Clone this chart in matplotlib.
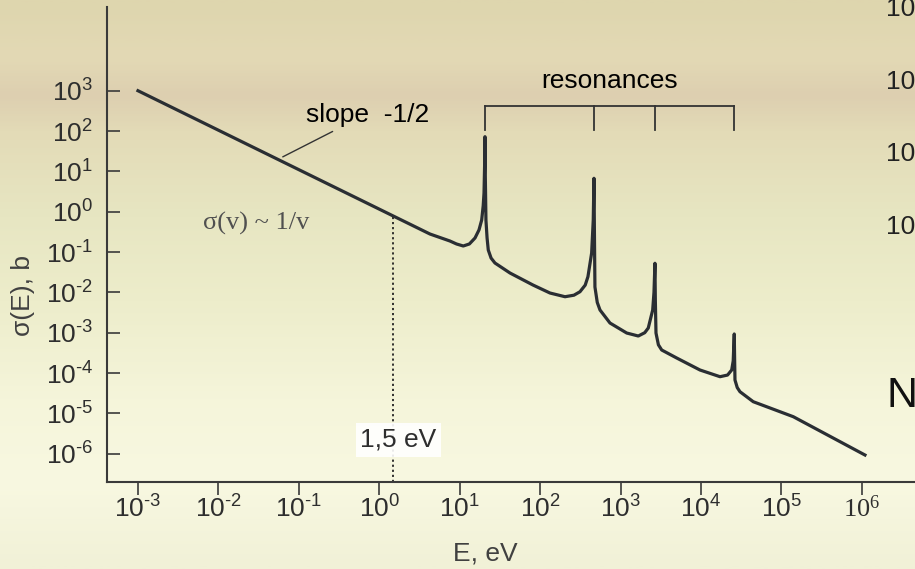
import numpy as np
import matplotlib.pyplot as plt
from matplotlib.colors import LinearSegmentedColormap
from matplotlib.ticker import FixedLocator, NullLocator

plt.rcParams['font.family'] = ['Liberation Sans', 'DejaVu Sans']
plt.rcParams['mathtext.fontset'] = 'custom'
plt.rcParams['mathtext.rm'] = 'Liberation Sans'

# prubeh ucinneho prurezu - log10(E/eV) a log10(sigma/b)
log_e = [-3.000, 0.630, 0.879, 0.960, 1.044, 1.120, 1.190, 1.240, 1.273, 1.292,
         1.302, 1.310, 1.314, 1.318, 1.326, 1.340, 1.355, 1.390, 1.438, 1.625,
         1.911, 2.122, 2.309, 2.420, 2.495, 2.560, 2.594, 2.640, 2.660, 2.669,
         2.675, 2.681, 2.710, 2.744, 2.868, 3.076, 3.220, 3.300, 3.344, 3.399,
         3.415, 3.427, 3.432, 3.440, 3.470, 3.511, 3.697, 3.987, 4.236, 4.330,
         4.381, 4.400, 4.413, 4.418, 4.422, 4.450, 4.484, 4.649, 5.147, 6.038]
log_sigma = [3.000, -0.553, -0.727, -0.800, -0.850, -0.800, -0.652, -0.450, -0.206, 0.150,
             0.464, 1.200, 1.860, 0.900, -0.206, -0.650, -0.950, -1.150, -1.272, -1.520,
             -1.818, -2.016, -2.108, -2.070, -1.984, -1.820, -1.612, -1.024, -0.206, 0.828,
             -0.600, -1.867, -2.250, -2.437, -2.760, -3.008, -3.082, -3.000, -2.884, -2.437,
             -2.000, -1.279, -2.200, -3.008, -3.300, -3.429, -3.627, -3.925, -4.091, -4.050,
             -3.925, -3.700, -3.032, -3.700, -4.173, -4.360, -4.463, -4.711, -5.083, -6.033]

# rezonance (vrcholy) a oznacena energie
rezonance = [10**1.314, 10**2.669, 10**3.427, 10**4.413]
e_mez = 1.5

dekady_x = list(range(-3, 7))
dekady_y = list(range(-6, 4))

barva = '#2a2e33'
text_barva = '#2e2e2e'
vel = 19


def popisek(d):
    # exponent s kratkou pomlckou misto matematickeho minus
    if d < 0:
        return r'$\mathregular{10^{\text{-}%d}}$' % (-d)
    return r'$\mathregular{10^{%d}}$' % d


E = 10 ** np.array(log_e)
sigma = 10 ** np.array(log_sigma)

fig = plt.figure(figsize=(9.15, 5.69), dpi=100)

# pozadi - prechod od bezove nahore k svetle kremove dole
bg = fig.add_axes([0, 0, 1, 1], zorder=-5)
stops = [(0.0, '#ded6ae'), (0.10, '#e3d9b5'), (0.165, '#ddcfb0'), (0.23, '#e3dbb7'),
         (0.38, '#e7e6c2'), (0.53, '#ededcb'), (0.70, '#f5f5da'), (0.85, '#f8f8e1'),
         (1.0, '#f1f1d7')]
cmap = LinearSegmentedColormap.from_list('pozadi', stops)
grad = np.linspace(0, 1, 300).reshape(-1, 1)
bg.imshow(grad, cmap=cmap, aspect='auto', extent=[0, 1, 1, 0])
bg.set_axis_off()

ax = fig.add_axes([107 / 915, 87 / 569, 808 / 915, 475 / 569])
ax.set_facecolor('none')
ax.set_xscale('log')
ax.set_yscale('log')
ax.set_xlim(10**-3.385, 10**6.66)
ax.set_ylim(10**-6.702, 10**5.076)

ax.plot(E, sigma, color=barva, lw=2.3, solid_joinstyle='round', zorder=3)

# svisla teckovana cara pro 1,5 eV
top = 10 ** np.interp(np.log10(e_mez), log_e, log_sigma)
ax.vlines(e_mez, 10**-6.702, top, colors='#222222', lw=1.3,
          linestyles=(0, (1.2, 1.6)), zorder=2)
ax.text(10**0.24, 10**-5.66, '1,5 eV', ha='center', va='center', fontsize=vel,
        color=text_barva, zorder=4,
        bbox=dict(boxstyle='square,pad=0.18', fc='white', ec='none', alpha=0.9))

# zavorka "resonances"
y_z = 10**2.621
y_k = 10**2.026
ax.plot([rezonance[0], rezonance[-1]], [y_z, y_z], color='#333333', lw=1.3)
for r in rezonance:
    ax.plot([r, r], [y_z, y_k], color='#333333', lw=1.3)
ax.text(np.sqrt(rezonance[0] * rezonance[-1]), 10**3.24, 'resonances',
        ha='center', va='center', fontsize=vel, color='black')

# popis sklonu
ax.text(10**-0.911, 10**2.40, 'slope  -1/2', ha='left', va='center',
        fontsize=vel, color='black')
ax.annotate('', xy=(10**-1.2, 10**1.36), xytext=(10**-0.58, 10**1.99),
            arrowprops=dict(arrowstyle='-', color='#333333', lw=1.0,
                            shrinkA=0, shrinkB=0))
ax.text(10**-2.19, 10**-0.29, r'σ(v) ~ 1/v', ha='left', va='center',
        fontsize=vel, color='#505050', family='Liberation Serif')

# osy
for s in ['top', 'right']:
    ax.spines[s].set_visible(False)
for s in ['left', 'bottom']:
    ax.spines[s].set_color('#3a3a3a')
    ax.spines[s].set_linewidth(1.5)

ax.xaxis.set_major_locator(FixedLocator([10.0**d for d in dekady_x]))
ax.yaxis.set_major_locator(FixedLocator([10.0**d for d in dekady_y]))
ax.xaxis.set_minor_locator(NullLocator())
ax.yaxis.set_minor_locator(NullLocator())
ax.set_xticklabels([popisek(d) for d in dekady_x])
ax.set_yticklabels([popisek(d) for d in dekady_y])
ax.tick_params(axis='x', direction='out', length=9, width=1.2, pad=1,
               labelsize=vel, colors='#3a3a3a', labelcolor=text_barva)
ax.tick_params(axis='y', direction='in', length=9, width=1.2, pad=10,
               labelsize=vel, colors='#3a3a3a', labelcolor=text_barva)
ax.get_xticklabels()[-1].set_fontfamily('Liberation Serif')

fig.text(485 / 915, 1 - 553 / 569, 'E, eV', ha='center', va='center',
         fontsize=vel, color='#404040')
fig.text(23 / 915, 1 - 296 / 569, 'σ(E), b', ha='center', va='center',
         rotation=90, fontsize=vel, color='#404040')

# okraj vedlejsiho obrazku vpravo
for yy in [9, 82, 154, 227]:
    fig.text(886 / 915, 1 - yy / 569, '10', ha='left', va='center',
             fontsize=vel, color='#222222')
fig.text(886 / 915, 1 - 396 / 569, 'N', ha='left', va='center',
         fontsize=31, color='#111111')

fig.savefig('out.png', dpi=100)
